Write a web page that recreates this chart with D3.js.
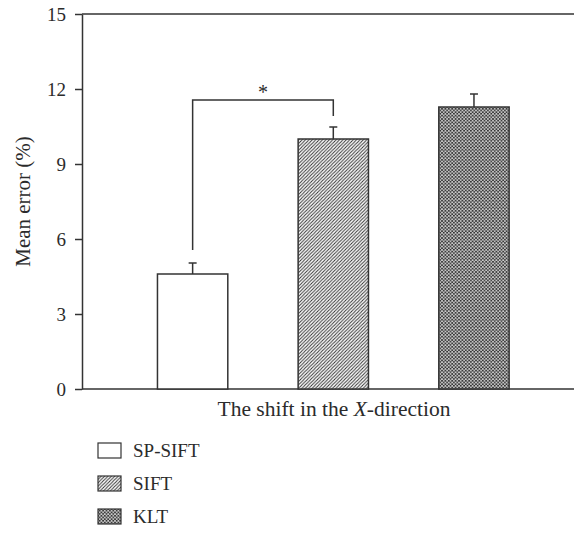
<!DOCTYPE html>
<html>
<head>
<meta charset="utf-8">
<script src="https://cdn.jsdelivr.net/npm/d3@7"></script>
<style>
  body { margin: 0; background: #fff; }
  text { font-family: "Liberation Serif", "DejaVu Serif", serif; fill: #2b2b2b; }
</style>
</head>
<body>
<div id="chart"></div>
<script>
// data
var methods = ["SP-SIFT", "SIFT", "KLT"];
var meanError = [4.6, 10.0, 11.28];
var errorBar = [0.44, 0.48, 0.52];
var yTicks = [0, 3, 6, 9, 12, 15];
// significance bracket between SP-SIFT and SIFT
var bracketPair = ["SP-SIFT", "SIFT"];
var bracketLevel = 11.56;
var bracketEnds = [5.56, 10.92];

var W = 574, H = 533;
var ink = "#333";

var svg = d3.select("#chart")
  .append("svg")
  .attr("width", W)
  .attr("height", H);

// fill patterns
var defs = svg.append("defs");
var hatch = defs.append("pattern")
  .attr("id", "hatch")
  .attr("patternUnits", "userSpaceOnUse")
  .attr("width", 3.4).attr("height", 3.4);
hatch.append("rect").attr("width", 3.4).attr("height", 3.4).attr("fill", "#fff");
hatch.append("path")
  .attr("d", "M-1,1 l2,-2 M0,3.4 l3.4,-3.4 M2.4,4.4 l2,-2")
  .attr("stroke", ink).attr("stroke-width", 1);

var cross = defs.append("pattern")
  .attr("id", "cross")
  .attr("patternUnits", "userSpaceOnUse")
  .attr("width", 3.4).attr("height", 3.4);
cross.append("rect").attr("width", 3.4).attr("height", 3.4).attr("fill", "#fff");
cross.append("path")
  .attr("d", "M-1,1 l2,-2 M0,3.4 l3.4,-3.4 M2.4,4.4 l2,-2 M-1,2.4 l2,2 M0,0 l3.4,3.4 M2.4,-1 l2,2")
  .attr("stroke", ink).attr("stroke-width", 1);

var fills = ["#fff", "url(#hatch)", "url(#cross)"];

// scales
var x = d3.scaleBand()
  .domain(methods)
  .range([122.3, 544.3])
  .paddingInner(0.5)
  .paddingOuter(0.25);

var y = d3.scaleLinear()
  .domain([0, 15])
  .range([389, 14]);

var x0 = 82;

// y axis
var yAxis = svg.append("g")
  .attr("transform", "translate(" + x0 + ",0)")
  .call(d3.axisLeft(y).tickValues(yTicks).tickSize(7).tickPadding(9).tickSizeOuter(0));
yAxis.select(".domain").attr("stroke", ink).attr("stroke-width", 1.5);
yAxis.selectAll(".tick line").attr("stroke", ink).attr("stroke-width", 1.5);
yAxis.selectAll(".tick text")
  .attr("font-size", "19px")
  .attr("font-family", "Liberation Serif")
  .attr("fill", "#2b2b2b");

// top frame line and x axis line
svg.append("line")
  .attr("x1", x0).attr("x2", W)
  .attr("y1", y(15)).attr("y2", y(15))
  .attr("stroke", ink).attr("stroke-width", 1.5);
svg.append("line")
  .attr("x1", x0).attr("x2", W)
  .attr("y1", y(0)).attr("y2", y(0))
  .attr("stroke", ink).attr("stroke-width", 1.5);

// bars
svg.selectAll("rect.bar")
  .data(methods)
  .enter()
  .append("rect")
    .attr("class", "bar")
    .attr("x", function(d) { return x(d); })
    .attr("y", function(d, i) { return y(meanError[i]); })
    .attr("width", x.bandwidth())
    .attr("height", function(d, i) { return y(0) - y(meanError[i]); })
    .attr("fill", function(d, i) { return fills[i]; })
    .attr("stroke", ink)
    .attr("stroke-width", 1.5);

// error bars
var eb = svg.selectAll("g.err")
  .data(methods)
  .enter()
  .append("g")
    .attr("class", "err");
eb.append("line")
  .attr("x1", function(d) { return x(d) + x.bandwidth() / 2; })
  .attr("x2", function(d) { return x(d) + x.bandwidth() / 2; })
  .attr("y1", function(d, i) { return y(meanError[i]); })
  .attr("y2", function(d, i) { return y(meanError[i] + errorBar[i]); })
  .attr("stroke", ink).attr("stroke-width", 1.5);
eb.append("line")
  .attr("x1", function(d) { return x(d) + x.bandwidth() / 2 - 4; })
  .attr("x2", function(d) { return x(d) + x.bandwidth() / 2 + 4; })
  .attr("y1", function(d, i) { return y(meanError[i] + errorBar[i]); })
  .attr("y2", function(d, i) { return y(meanError[i] + errorBar[i]); })
  .attr("stroke", ink).attr("stroke-width", 1.5);

// significance bracket
var bl = x(bracketPair[0]) + x.bandwidth() / 2,
    br = x(bracketPair[1]) + x.bandwidth() / 2;
svg.append("path")
  .attr("d", "M" + bl + "," + y(bracketEnds[0]) +
             "V" + y(bracketLevel) +
             "H" + br +
             "V" + y(bracketEnds[1]))
  .attr("fill", "none")
  .attr("stroke", ink).attr("stroke-width", 1.5);
svg.append("text")
  .attr("x", (bl + br) / 2)
  .attr("y", y(bracketLevel) - 1.5)
  .attr("text-anchor", "middle")
  .attr("font-size", "20px")
  .text("*");

// axis titles
var xt = svg.append("text")
  .attr("x", 334)
  .attr("y", 416)
  .attr("text-anchor", "middle")
  .attr("font-size", "21.5px");
xt.append("tspan").text("The shift in the ");
xt.append("tspan").attr("font-style", "italic").text("X");
xt.append("tspan").text("-direction");

svg.append("text")
  .attr("transform", "translate(30," + y(7.5) + ") rotate(-90)")
  .attr("text-anchor", "middle")
  .attr("font-size", "21px")
  .text("Mean error (%)");

// legend
var lg = svg.selectAll("g.legend")
  .data(methods)
  .enter()
  .append("g")
    .attr("class", "legend")
    .attr("transform", function(d, i) { return "translate(98," + (443 + i * 33) + ")"; });
lg.append("rect")
  .attr("width", 23).attr("height", 15)
  .attr("fill", function(d, i) { return fills[i]; })
  .attr("stroke", ink).attr("stroke-width", 1.2);
lg.append("text")
  .attr("x", 35)
  .attr("y", 14)
  .attr("font-size", "19px")
  .text(function(d) { return d; });
</script>
</body>
</html>
